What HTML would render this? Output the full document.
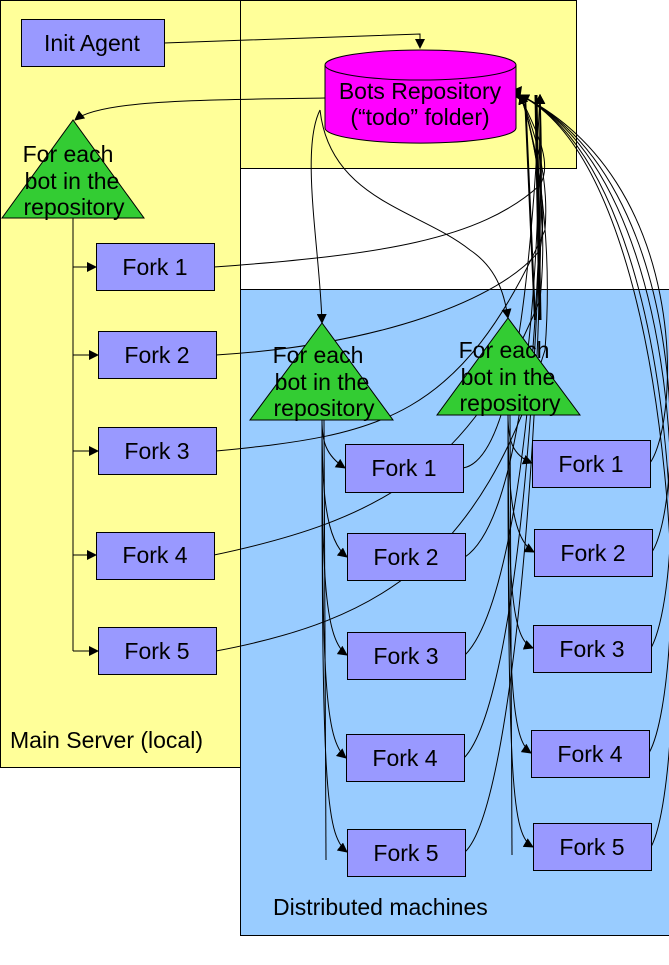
<!DOCTYPE html>
<html><head><meta charset="utf-8"><style>
html,body{margin:0;padding:0;background:#fff}
svg{display:block}
text{font-family:"Liberation Sans",sans-serif;font-size:23px;fill:#000}
</style></head><body>
<svg width="669" height="965" viewBox="0 0 669 965">
<defs><marker id="ah" markerWidth="10" markerHeight="10" refX="9" refY="5" orient="auto" markerUnits="userSpaceOnUse"><path d="M0,0 L10,5 L0,10 z" fill="#000"/></marker></defs>
<rect x="0.5" y="0.5" width="240" height="767" fill="#ffff99" stroke="#000"/>
<rect x="240.5" y="0.5" width="336" height="168" fill="#ffff99" stroke="#000"/>
<rect x="240.5" y="289.5" width="440" height="646" fill="#99ccff" stroke="#000"/>
<text x="10" y="748">Main Server (local)</text>
<text x="273" y="915">Distributed machines</text>

<g fill="none" stroke="#000" stroke-width="1">
<path d="M164,43 L420,34 L420,48" marker-end="url(#ah)"/>
<path d="M325,98 C200,100 100,100 75,120" marker-end="url(#ah)"/>
<path d="M73,218 L73,651"/>
<path d="M73,267 L96,267" marker-end="url(#ah)"/>
<path d="M73,355 L98,355" marker-end="url(#ah)"/>
<path d="M73,451 L98,451" marker-end="url(#ah)"/>
<path d="M73,555 L96,555" marker-end="url(#ah)"/>
<path d="M73,651 L98,651" marker-end="url(#ah)"/>
<path d="M320,110 C300,150 320,250 322,323" marker-end="url(#ah)"/>
<path d="M320,110 C330,200 420,210 470,250 C500,270 505,300 508,318" marker-end="url(#ah)"/>
<path d="M214,267 C380,255 480,240 540,185 C555,160 530,120 520,95" marker-end="url(#ah)"/>
<path d="M216,355 C380,345 500,300 540,250 C550,200 530,120 520,95" marker-end="url(#ah)"/>
<path d="M216,451 C380,435 460,420 545,230 C550,170 530,120 520,95" marker-end="url(#ah)"/>
<path d="M214,555 C380,520 470,470 540,300 C550,200 530,120 520,95" marker-end="url(#ah)"/>
<path d="M216,651 C380,620 480,560 545,350 C555,220 530,120 520,95" marker-end="url(#ah)"/>
<path d="M322,420 C322,440 325,455 345,468" marker-end="url(#ah)"/>
<path d="M322,420 C322,490 325,540 347,557" marker-end="url(#ah)"/>
<path d="M322,420 C322,580 325,640 347,655" marker-end="url(#ah)"/>
<path d="M322,420 C322,680 325,740 346,758" marker-end="url(#ah)"/>
<path d="M322,420 C322,780 325,835 347,852" marker-end="url(#ah)"/>
<path d="M324,420 L326,860"/>
<path d="M508,415 C508,440 512,455 532,463" marker-end="url(#ah)"/>
<path d="M508,415 C508,490 512,540 534,552" marker-end="url(#ah)"/>
<path d="M508,415 C508,590 512,640 533,648" marker-end="url(#ah)"/>
<path d="M508,415 C508,690 512,740 531,753" marker-end="url(#ah)"/>
<path d="M508,415 C508,790 512,835 533,847" marker-end="url(#ah)"/>
<path d="M510,415 L512,855"/>
<path d="M463,468 C510,460 530,300 540,95" marker-end="url(#ah)"/>
<path d="M465,557 C520,520 540,300 540,95" marker-end="url(#ah)"/>
<path d="M465,655 C520,600 545,300 540,95" marker-end="url(#ah)"/>
<path d="M464,758 C520,700 545,300 540,95" marker-end="url(#ah)"/>
<path d="M465,852 C520,800 548,300 540,95" marker-end="url(#ah)"/>
<path d="M650,463 C680,420 690,180 520,95" marker-end="url(#ah)"/>
<path d="M652,552 C685,500 690,180 520,95" marker-end="url(#ah)"/>
<path d="M651,648 C688,580 690,180 520,95" marker-end="url(#ah)"/>
<path d="M649,753 C690,680 690,180 520,95" marker-end="url(#ah)"/>
<path d="M651,847 C692,770 690,180 520,95" marker-end="url(#ah)"/>
<path d="M536,95 L540,320" stroke-width="3"/>
<path d="M525,95 L535,320" stroke-width="2"/>
</g>
<path d="M508,92 L522,86 L520,100 z" fill="#000"/>

<rect x="21.5" y="19.5" width="143" height="47" fill="#9999ff" stroke="#000"/>
<text x="92" y="51" text-anchor="middle">Init Agent</text>

<g>
<path d="M325,65 L325,128 A95,15 0 0 0 516,128 L516,65" fill="#ff00ff" stroke="#000"/>
<ellipse cx="420.5" cy="65" rx="95.5" ry="15" fill="#ff00ff" stroke="#000"/>
<text x="420" y="99" text-anchor="middle">Bots Repository</text>
<text x="420" y="125" text-anchor="middle">(“todo” folder)</text>
</g>

<g>
<polygon points="73,120 2,218 144,218" fill="#33cc33" stroke="#000"/>
<text x="68" y="162" text-anchor="middle">For each</text>
<text x="72" y="189" text-anchor="middle">bot in the</text>
<text x="74" y="215" text-anchor="middle">repository</text>
</g>
<g>
<polygon points="322,323 250,420 393,420" fill="#33cc33" stroke="#000"/>
<text x="318" y="363" text-anchor="middle">For each</text>
<text x="322" y="390" text-anchor="middle">bot in the</text>
<text x="324" y="416" text-anchor="middle">repository</text>
</g>
<g>
<polygon points="508,318 437,415 580,415" fill="#33cc33" stroke="#000"/>
<text x="504" y="358" text-anchor="middle">For each</text>
<text x="508" y="385" text-anchor="middle">bot in the</text>
<text x="510" y="411" text-anchor="middle">repository</text>
</g>

<g fill="#9999ff" stroke="#000">
<rect x="96.5" y="243.5" width="118" height="47"/>
<rect x="98.5" y="331.5" width="118" height="47"/>
<rect x="98.5" y="427.5" width="118" height="47"/>
<rect x="96.5" y="532.5" width="118" height="47"/>
<rect x="98.5" y="627.5" width="118" height="47"/>
<rect x="345.5" y="444.5" width="118" height="48"/>
<rect x="347.5" y="533.5" width="118" height="47"/>
<rect x="347.5" y="632.5" width="118" height="47"/>
<rect x="346.5" y="734.5" width="118" height="47"/>
<rect x="347.5" y="829.5" width="118" height="47"/>
<rect x="532.5" y="440.5" width="118" height="47"/>
<rect x="534.5" y="529.5" width="118" height="47"/>
<rect x="533.5" y="625.5" width="118" height="47"/>
<rect x="531.5" y="730.5" width="118" height="47"/>
<rect x="533.5" y="823.5" width="118" height="47"/>
</g>
<g text-anchor="middle">
<text x="155" y="275">Fork 1</text><text x="157" y="363">Fork 2</text><text x="157" y="459">Fork 3</text><text x="155" y="563">Fork 4</text><text x="157" y="659">Fork 5</text>
<text x="404" y="476">Fork 1</text><text x="406" y="565">Fork 2</text><text x="406" y="664">Fork 3</text><text x="405" y="766">Fork 4</text><text x="406" y="861">Fork 5</text>
<text x="591" y="472">Fork 1</text><text x="593" y="561">Fork 2</text><text x="592" y="657">Fork 3</text><text x="590" y="762">Fork 4</text><text x="592" y="855">Fork 5</text>
</g>
</svg>
</body></html>
